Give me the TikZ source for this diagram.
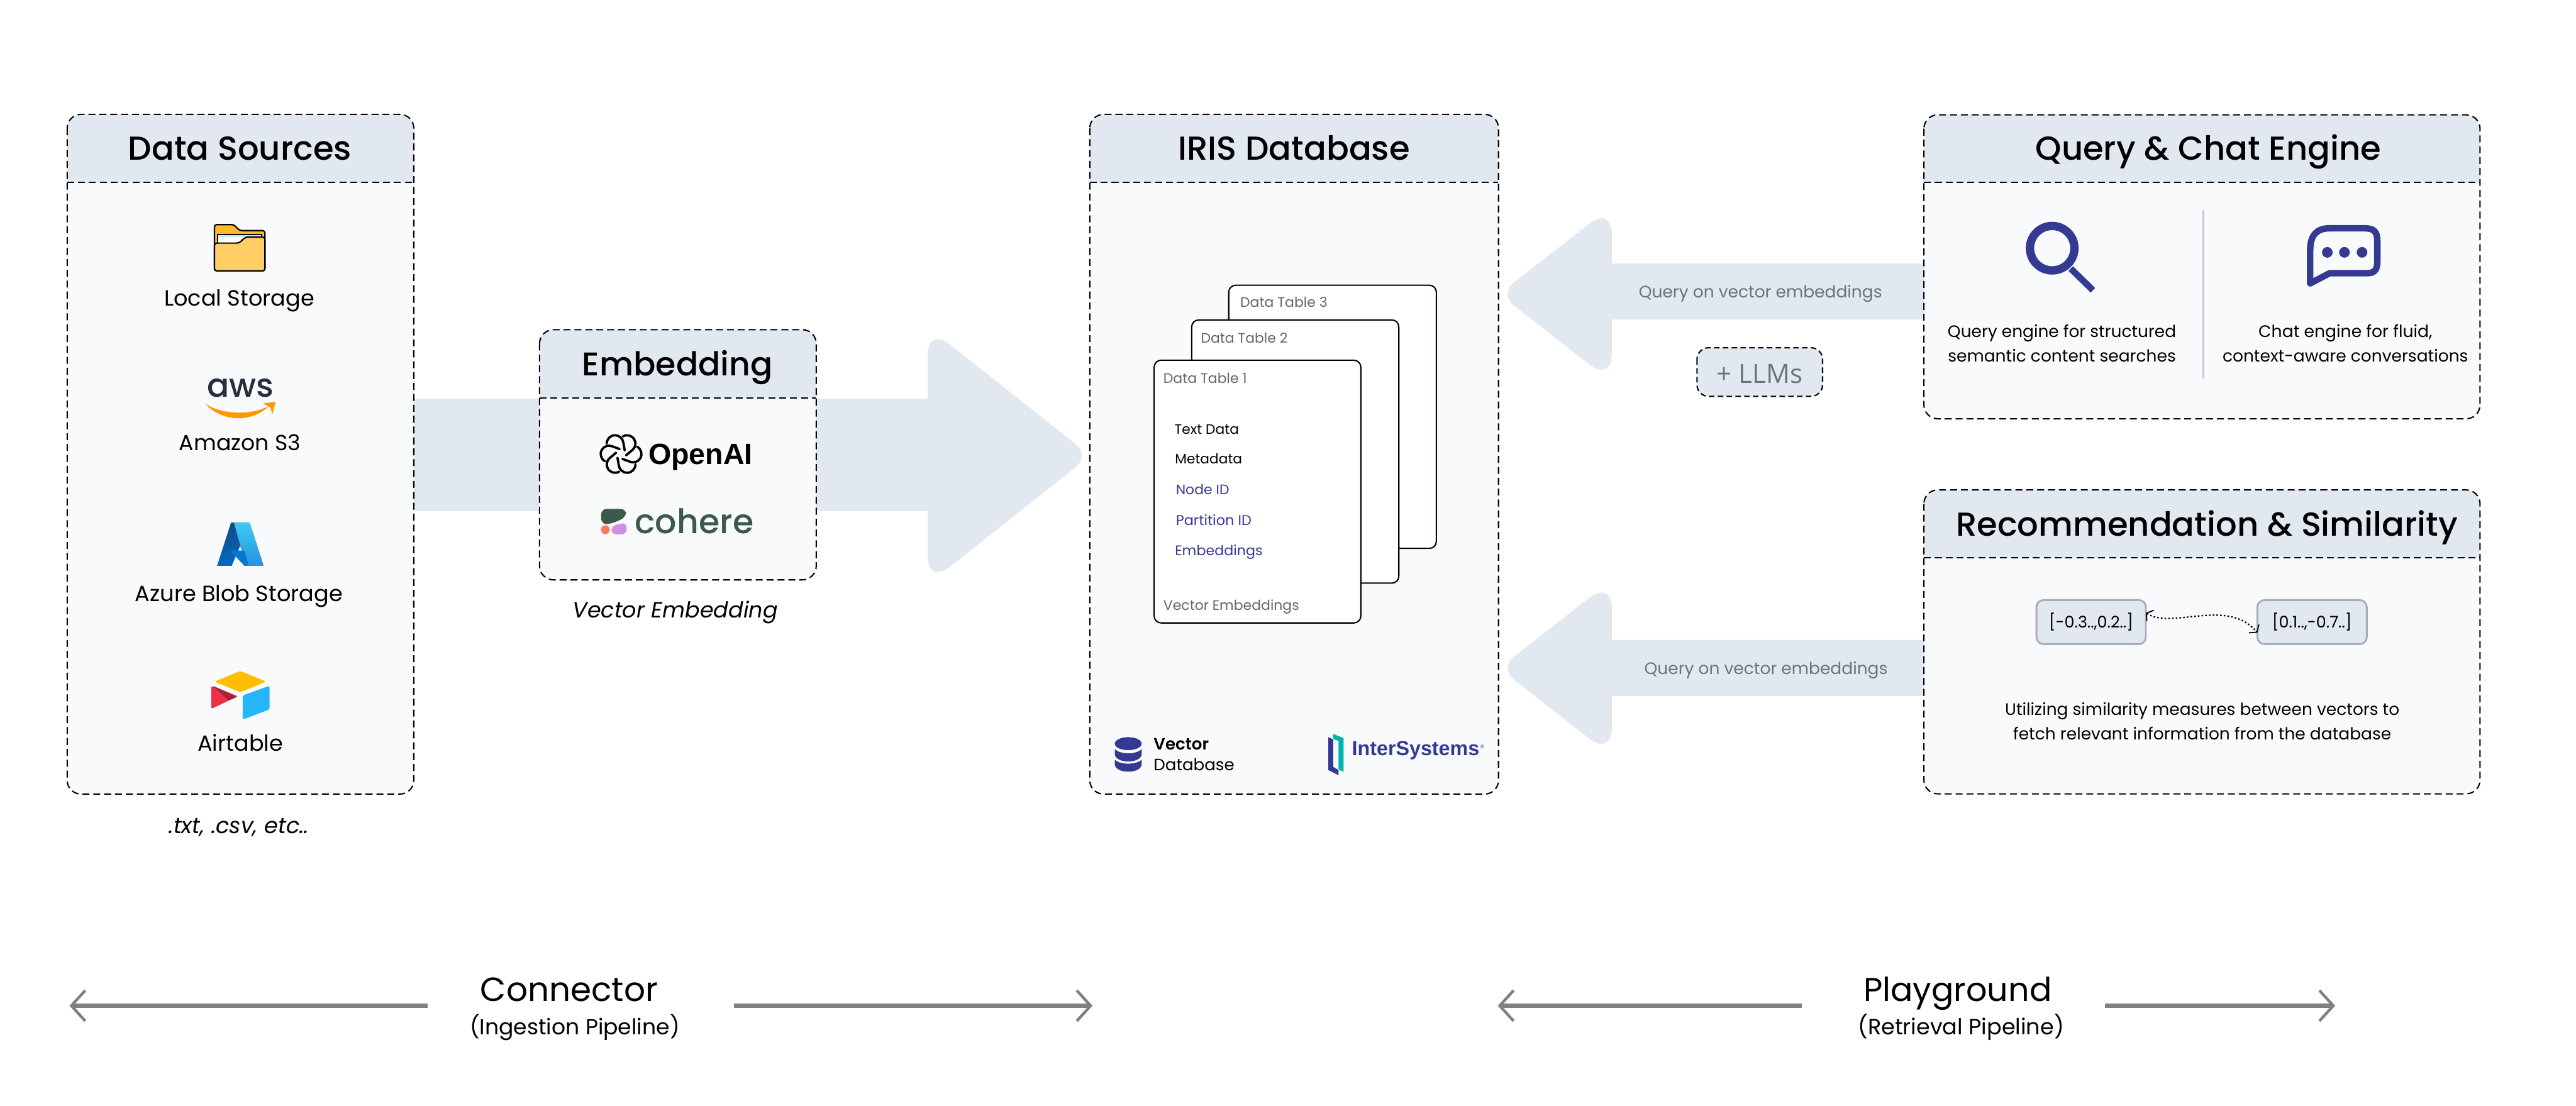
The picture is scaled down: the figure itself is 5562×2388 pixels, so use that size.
\documentclass[tikz,border=0pt]{standalone}
\usepackage{fontspec}
\usetikzlibrary{arrows.meta}
\setmainfont{Poppins}
\newfontfamily\popreg{Poppins}
\newfontfamily\popmed{Poppins Medium}
\newfontfamily\popsemi{Poppins SemiBold}
\newfontfamily\logob{Liberation Sans Bold}
\newfontfamily\openr{Open Sans}
\definecolor{headblue}{HTML}{E2E8F0}
\definecolor{bodygrey}{HTML}{F9FAFC}
\definecolor{navy}{HTML}{343A92}
\definecolor{tabgrey}{HTML}{666666}
\definecolor{slategrey}{HTML}{6B7280}
\definecolor{pipegrey}{HTML}{808080}
\definecolor{divline}{HTML}{C5C9E0}
\definecolor{chipline}{HTML}{A8AEB8}
\definecolor{coheregreen}{HTML}{3B5A4C}
\definecolor{folderback}{HTML}{FFBB24}
\definecolor{folderfront}{HTML}{FFCF66}
\definecolor{paperblue}{HTML}{C8EBF8}
\definecolor{awsink}{HTML}{252F3E}
\definecolor{awsorange}{HTML}{FF9900}
\definecolor{azdarktop}{HTML}{114A8B}
\definecolor{azdarkbot}{HTML}{0669BC}
\definecolor{azlighttop}{HTML}{3CCBF4}
\definecolor{azlightbot}{HTML}{2892DF}
\definecolor{azmid}{HTML}{0078D4}
\definecolor{atyellow}{HTML}{FFBF00}
\definecolor{atblue}{HTML}{26B5F8}
\definecolor{atred}{HTML}{ED3049}
\definecolor{atdark}{HTML}{AD2138}
\definecolor{coorange}{HTML}{FF7759}
\definecolor{copurple}{HTML}{D18EE2}
\definecolor{isteal}{HTML}{00B5AD}
% text whose size is chosen so that it is #1 picture units wide
\newcommand\fitt[2]{\setbox0=\hbox{\fontsize{20pt}{24pt}\selectfont #2}\pgfmathsetmacro\fitsz{#1*0.284528/\the\wd0*20}\fontsize{\fitsz pt}{\fitsz pt}\selectfont #2}
\tikzset{
  lbl/.style={inner sep=0pt,outer sep=0pt,anchor=base,font=\popreg},
  lbll/.style={lbl,anchor=base west},
  ttl/.style={lbl,font=\popmed},
  panelbody/.style={inner sep=0pt,outer sep=0pt,anchor=north west,fill=bodygrey,rounded corners=3mm},
  dashline/.style={draw=black,line width=.28mm,dash pattern=on 1.5mm off .85mm},
  band/.style={fill=headblue},
  tablecard/.style={draw=black,fill=white,line width=.28mm,rounded corners=1.5mm,inner sep=0pt,outer sep=0pt,anchor=north west},
  chip/.style={draw=chipline,fill=headblue,line width=.4mm,rounded corners=1.5mm,inner sep=0pt,outer sep=0pt,anchor=north west,minimum width=23.6mm,minimum height=9.5mm},
  pipe/.style={draw=pipegrey,line width=.9mm},
  pipetip/.style={-{Straight Barb[length=3mm,width=6.6mm,line width=.6mm]}},
  icon/.style={fill=navy},
}
% name, x1, y1, x2, y2, yheader
\newcommand\panel[6]{%
  \pgfmathsetmacro\pw{(#4-#2)*0.1}\pgfmathsetmacro\ph{(#5-#3)*0.1}%
  \node[panelbody,minimum width=\pw mm,minimum height=\ph mm] (#1) at (#2,#3) {};%
  \fill[headblue] (#2,#6) [rounded corners=3mm] -- (#2,#3) -- (#4,#3) [sharp corners] -- (#4,#6) -- cycle;%
  \draw[dashline,rounded corners=3mm] (#1.north west) rectangle (#1.south east);%
  \draw[dashline] (#2,#6) -- (#4,#6);%
}
\begin{document}
\begin{tikzpicture}[x=0.01cm,y=-0.01cm]
\useasboundingbox (0,0) rectangle (5562,2388);
\fill[white] (0,0) rectangle (5562,2388);

% broad flow arrows
\fill[band] (893,861) -- (2003,861) [rounded corners=6mm] -- (2003,706) [rounded corners=4mm] -- (2354,984) [rounded corners=6mm] -- (2003,1262) [sharp corners] -- (2003,1104) -- (893,1104) -- cycle;
\fill[band] (4154,569) -- (3480,569) [rounded corners=6mm] -- (3480,445) [rounded corners=4mm] -- (3237,635) [rounded corners=6mm] -- (3480,825) [sharp corners] -- (3480,690) -- (4154,690) -- cycle;
\fill[band] (4154,1382) -- (3480,1382) [rounded corners=6mm] -- (3480,1253) [rounded corners=4mm] -- (3237,1443) [rounded corners=6mm] -- (3480,1633) [sharp corners] -- (3480,1503) -- (4154,1503) -- cycle;

% panels
\panel{ds}{145}{247}{893}{1714}{394}
\panel{emb}{1165}{712}{1762}{1252}{859}
\panel{iris}{2353}{247}{3235}{1714}{394}
\panel{qc}{4154}{248}{5354}{904}{394}
\panel{rs}{4154}{1058}{5354}{1714}{1204}

% titles
\node[ttl] (tds) at (518,345) {\fitt{482}{Data Sources}};
\node[ttl] (temb) at (1463,811) {\fitt{411}{Embedding}};
\node[ttl] (tiris) at (2794,345) {\fitt{500}{IRIS Database}};
\node[ttl] (tqc) at (4768,345) {\fitt{746}{Query \& Chat Engine}};
\node[ttl] (trs) at (4765,1158) {\fitt{1083}{Recommendation \& Similarity}};

% folder icon
\filldraw[fill=folderback,draw=black,line width=.3mm,rounded corners=.5mm] (463,585) -- (463,485) -- (505,485) -- (517,498) -- (572,498) -- (572,585) -- cycle;
\filldraw[fill=white,draw=black,line width=.25mm] (470,506) rectangle (565,526);
\fill[paperblue] (473,508) rectangle (562,512);
\filldraw[fill=folderfront,draw=black,line width=.3mm,rounded corners=.5mm] (463,585) -- (463,525) -- (516,525) -- (530,512) -- (572,512) -- (572,585) -- cycle;
\node[lbl] (lLocal) at (517,660) {\fitt{324}{Local Storage}};

% aws icon
\node[lbl,font=\popmed,text=awsink] (naws) at (519,857) {\fitt{144}{aws}};
\fill[awsorange] (442,871) .. controls (480,913) and (545,913) .. (582,876) .. controls (545,897) and (480,897) .. cycle;
\fill[awsorange] (568,871) -- (595,868) -- (588,895) -- (584,880) -- cycle;
\node[lbl] (lS3) at (518,973) {\fitt{262}{Amazon S3}};

% azure icon
\fill[top color=azdarktop,bottom color=azdarkbot] (499,1129) -- (512,1129) -- (522,1170) -- (500,1222) -- (469,1222) -- cycle;
\fill[top color=azlighttop,bottom color=azlightbot] (505,1129) -- (539,1129) -- (569,1222) -- (531,1222) -- cycle;
\fill[azmid] (496,1189) -- (528,1189) -- (536,1218) -- (531,1222) -- (528,1222) -- cycle;
\node[lbl] (lAz) at (516,1299) {\fitt{448}{Azure Blob Storage}};

% airtable icon
\fill[atyellow,rounded corners=.5mm] (519,1449) -- (575,1472) -- (519,1495) -- (463,1472) -- cycle;
\fill[atblue,rounded corners=.4mm] (524,1502) -- (582,1481) -- (582,1532) -- (524,1554) -- cycle;
\fill[atred,rounded corners=.4mm] (456,1481) -- (513,1504) -- (456,1531) -- cycle;
\fill[atdark,rounded corners=.3mm] (459,1481) -- (513,1504) -- (494,1513) -- cycle;
\node[lbl] (lAir) at (519,1622) {\fitt{184}{Airtable}};
\node[lbl] (lExt) at (516,1800) {\itshape\fitt{302}{.txt, .csv, etc..}};

% openai knot: six lobes, each running on into a straight inner arm
\foreach \a in {0,60,...,300}
  \draw[line width=.5mm,line cap=round,rotate around={\a:(1341,980.5)}]
    (1376,964.9) arc[start angle=-60,end angle=110,x radius=18,y radius=18] -- (1344,991.2);
\node[lbll,font=\logob] (lOAI) at (1400,1003) {\fitt{225}{OpenAI}};

% cohere
\fill[coheregreen,rounded corners=1.2mm] (1298,1099) -- (1352,1099) -- (1352,1117) -- (1318,1132) -- (1298,1132) -- cycle;
\fill[coorange] (1307,1144) circle (9.5);
\fill[copurple,rounded corners=1.1mm] (1320,1154) -- (1320,1136) -- (1353,1128) -- (1353,1154) -- cycle;
\node[lbll,font=\popmed,text=coheregreen] (lCo) at (1371,1152) {\fitt{256}{cohere}};
\node[lbl] (lVE) at (1458,1334) {\itshape\fitt{443}{Vector Embedding}};

% data tables
\node[tablecard,minimum width=44.8mm,minimum height=56.8mm] (t3) at (2653,616) {};
\node[lbll,text=tabgrey] (l3) at (2678,663) {\fitt{188}{Data Table 3}};
\node[tablecard,minimum width=44.7mm,minimum height=56.8mm] (t2) at (2573,691) {};
\node[lbll,text=tabgrey] (l2) at (2593,741) {\fitt{187}{Data Table 2}};
\node[tablecard,minimum width=44.6mm,minimum height=56.7mm] (t1) at (2492,778) {};
\node[lbll,text=tabgrey] (l1) at (2512,828) {\fitt{180}{Data Table 1}};
\node[lbll] (f1) at (2536,937) {\fitt{139}{Text Data}};
\node[lbll] (f2) at (2537,1002) {\fitt{145}{Metadata}};
\node[lbll,text=navy] (f3) at (2539,1068) {\fitt{115}{Node ID}};
\node[lbll,text=navy] (f4) at (2539,1135) {\fitt{163}{Partition ID}};
\node[lbll,text=navy] (f5) at (2537,1200) {\fitt{189}{Embeddings}};
\node[lbll,text=tabgrey] (f6) at (2512,1318) {\fitt{293}{Vector Embeddings}};

% vector database icon
\fill[icon] (2436,1606) ellipse (29 and 14);
\fill[icon] (2407,1618) .. controls (2420,1630) and (2452,1630) .. (2465,1618) -- (2465,1628) .. controls (2465,1650) and (2407,1650) .. (2407,1628) -- cycle;
\fill[icon] (2407,1641) .. controls (2420,1652) and (2452,1652) .. (2465,1641) -- (2465,1650) .. controls (2465,1672) and (2407,1672) .. (2407,1650) -- cycle;
\node[lbll,font=\popsemi] (lV) at (2491,1619) {\fitt{119}{Vector}};
\node[lbll] (lD) at (2491,1664) {\fitt{174}{Database}};

% intersystems
\fill[navy] (2868,1592) -- (2878.5,1597) -- (2878.5,1656) -- (2890,1663) -- (2890,1674) -- (2868,1663) -- cycle;
\fill[isteal] (2878.5,1585) -- (2901,1594) -- (2901,1667) -- (2890,1662) -- (2890,1600) -- (2878.5,1596) -- cycle;
\node[lbll,font=\logob,text=navy] (lIS) at (2919,1631) {\fitt{275}{InterSystems}};
\node[lbll,font=\openr,text=navy] (lreg) at (3196,1616) {\fitt{9}{®}};

% flow labels
\node[lbl,text=slategrey] (q1) at (3801,643) {\fitt{525}{Query on vector embeddings}};
\node[lbl,text=slategrey] (q2) at (3813,1457) {\fitt{525}{Query on vector embeddings}};
\node[inner sep=0pt,outer sep=0pt,anchor=north west,fill=headblue,rounded corners=2.5mm,minimum width=27.1mm,minimum height=10.5mm] (llmbox) at (3664,751) {};
\draw[dashline,dash pattern=on 1.2mm off .7mm,rounded corners=2.5mm] (llmbox.north west) rectangle (llmbox.south east);
\node[lbl,font=\openr,text=slategrey] (lLLM) at (3800,827) {\fitt{186}{+ LLMs}};

% query and chat engine
\draw[divline,line width=.35mm] (4757,453) -- (4757,818);
\draw[navy,line width=1.8mm] (4431,536) circle (48);
\draw[navy,line width=1.4mm] (4471,580) -- (4519,627);
\filldraw[draw=navy,fill=bodygrey,line width=1.4mm,line join=round] (4988,612) -- (4988,540) .. controls (4988,505) and (5005,493) .. (5030,493) -- (5105,493) .. controls (5125,493) and (5133,500) .. (5133,520) -- (5133,565) .. controls (5133,585) and (5125,590) .. (5110,590) -- (5030,590) -- cycle;
\fill[navy] (5025,545) circle (11.5);
\fill[navy] (5062,545) circle (11.5);
\fill[navy] (5100,545) circle (11.5);
\node[lbl] (qe1) at (4452,729) {\fitt{493}{Query engine for structured}};
\node[lbl] (qe2) at (4452,782) {\fitt{492}{semantic content searches}};
\node[lbl] (ce1) at (5064,729) {\fitt{375}{Chat engine for fluid,}};
\node[lbl] (ce2) at (5064,782) {\fitt{530}{context-aware conversations}};

% recommendation and similarity
\node[chip] (va) at (4397,1296) {};
\node[chip] (vb) at (4874,1296) {};
\node[lbl] (lva) at (4515,1356) {\fitt{182}{[-0.3..,0.2..]}};
\node[lbl] (lvb) at (4992,1356) {\fitt{172}{[0.1..,-0.7..]}};
\draw[line width=.3mm,dash pattern=on .35mm off .45mm,{Straight Barb[length=1mm,width=2.8mm,line width=.25mm]}-{Straight Barb[length=1mm,width=2.8mm,line width=.25mm]}] ([yshift=2mm]va.east) .. controls (4690,1360) and (4810,1290) .. ([yshift=-2.3mm]vb.west);
\node[lbl] (u1) at (4755,1544) {\fitt{851}{Utilizing similarity measures between vectors to}};
\node[lbl] (u2) at (4755,1598) {\fitt{816}{fetch relevant information from the database}};

% pipelines
\node[lbl] (lCon) at (1229,2163) {\fitt{383}{Connector}};
\node[lbl] (lIng) at (1241,2235) {\fitt{453}{(Ingestion Pipeline)}};
\node[lbl] (lPlay) at (4227,2163) {\fitt{406}{Playground}};
\node[lbl] (lRet) at (4234,2235) {\fitt{445}{(Retrieval Pipeline)}};
\coordinate (c1) at (924,2172);
\coordinate (c2) at (150,2172);
\coordinate (c3) at (1585,2172);
\coordinate (c4) at (2359,2172);
\coordinate (c5) at (3891,2172);
\coordinate (c6) at (3234,2172);
\coordinate (c7) at (4545,2172);
\coordinate (c8) at (5042,2172);
\draw[pipe,pipetip] (c1) -- (c2);
\draw[pipe,pipetip] (c3) -- (c4);
\draw[pipe,pipetip] (c5) -- (c6);
\draw[pipe,pipetip] (c7) -- (c8);
\end{tikzpicture}
\end{document}
